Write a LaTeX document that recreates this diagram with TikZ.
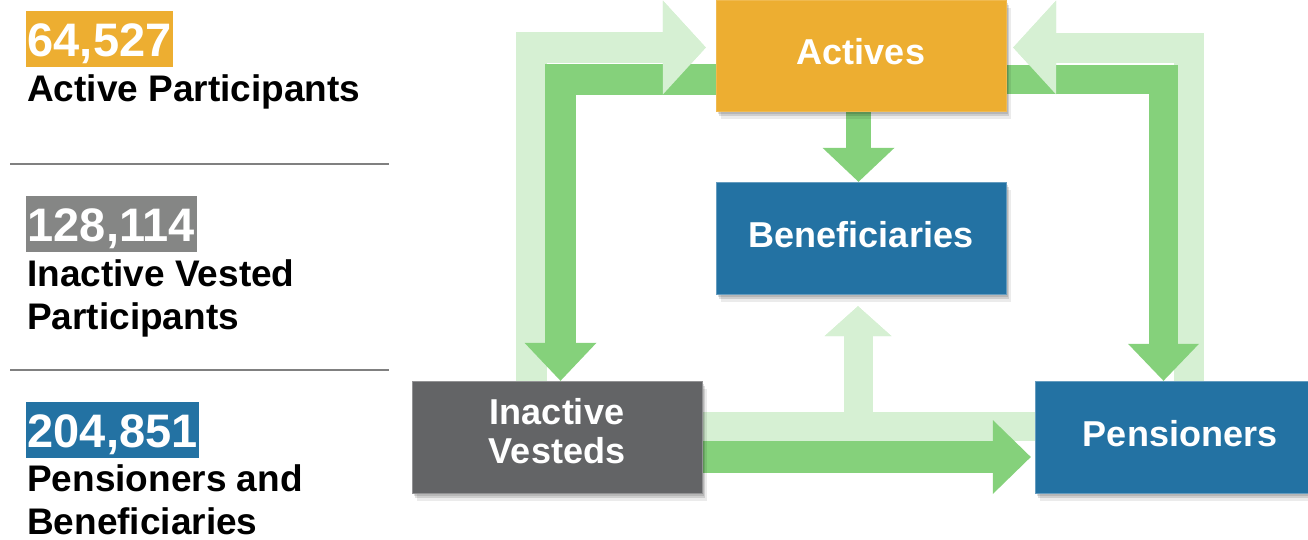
\documentclass[tikz,border=0pt]{standalone}
\usepackage{fontspec}
\setmainfont{Liberation Sans}
\usetikzlibrary{arrows.meta,shadows,calc}
\definecolor{actorange}{HTML}{EDAE31}
\definecolor{penblue}{HTML}{2372A3}
\definecolor{vestgray}{HTML}{636466}
\definecolor{numgray}{HTML}{858685}
\definecolor{flowdark}{HTML}{85D17B}
\definecolor{flowlight}{HTML}{D6F0D3}
\definecolor{rulegray}{HTML}{808080}
\pgfdeclarelayer{background}
\pgfsetlayers{background,main}

\begin{document}
\begin{tikzpicture}[x=1pt,y=-1pt,
  softshadow/.style={
    drop shadow={shadow xshift=1.5pt,shadow yshift=-2.5pt,opacity=0.12,fill=black},
    drop shadow={shadow xshift=3pt,shadow yshift=-5pt,opacity=0.12,fill=black},
    drop shadow={shadow xshift=4.5pt,shadow yshift=-7.5pt,opacity=0.08,fill=black}},
  statebox/.style={minimum width=290pt, minimum height=112pt, inner sep=0pt,
    text=white, align=center, font=\fontsize{36}{39}\selectfont\bfseries,
    text height=26pt, text depth=8pt, softshadow},
  numbox/.style={fill=#1, text=white, font=\fontsize{47}{47}\selectfont\bfseries,
    inner xsep=1.5pt, inner ysep=0pt, text height=45pt, text depth=11pt, anchor=base west},
  caption/.style={anchor=base west, inner sep=0pt, align=left,
    font=\fontsize{37}{43}\selectfont\bfseries},
  flowD/.style={draw=flowdark, line width=#1, line join=miter, line cap=butt},
  flowL/.style={draw=flowlight, line width=#1, line join=miter, line cap=butt},
  rule/.style={draw=rulegray, line width=2pt}
]
\clip (0,0) rectangle (1308,539);

% ---------- summary column (captions anchored at their last baseline) ----------
\node[numbox=actorange] (nact) at (26,56) {64,527};
\node[caption] (cact) at (27,101) {Active Participants};
\draw[rule] (10,164) -- (389,164);

\node[numbox=numgray] (nina) at (26,241) {128,114};
\node[caption] (cina) at (27,329) {Inactive Vested\\Participants};
\draw[rule] (10,369.5) -- (389,369.5);

\node[numbox=penblue] (npen) at (26,447) {204,851};
\node[caption] (cpen) at (27,534) {Pensioners and\\Beneficiaries};

% ---------- status boxes ----------
\node[statebox, fill=actorange, draw=actorange!85!white, minimum height=111pt] (act) at (861,55.5) {Actives};
\node[statebox, fill=penblue, draw=penblue!70!white] (ben) at (861,238) {Beneficiaries};
\node[statebox, fill=vestgray, draw=vestgray!70!white, text height=65pt, text depth=13pt] (ina) at (557,437) {Inactive\\Vesteds};
\node[statebox, fill=penblue, draw=penblue!70!white] (pen) at (1180,437) {Pensioners};

% ---------- flows ----------
\begin{pgfonlayer}{background}
  % light (return) flows
  \draw[flowL=31pt, -{Triangle[length=43pt,width=94pt,line width=0pt]}]
    ([xshift=-26pt]ina.north) |- ([xshift=-10pt,yshift=8pt]act.west);
  \draw[flowL=30pt, -{Triangle[length=43pt,width=94pt,line width=0pt]}]
    ([xshift=9pt]pen.north) |- ([xshift=7pt,yshift=8pt]act.east);
  \draw[flowL=29pt, -{Triangle[length=30pt,width=67pt,line width=0pt]}]
    ([yshift=10.5pt]ina.east) -| ([xshift=-3pt,yshift=-12pt]ben.south);
  \draw[flowL=29pt, -{Triangle[length=30pt,width=67pt,line width=0pt]}]
    ([yshift=10.5pt]pen.west) -| ([xshift=-3pt,yshift=-12pt]ben.south);

  % dark (main) flows
  \draw[flowD=31pt, -{Triangle[length=38pt,width=72pt,line width=0pt]}]
    ([yshift=-24pt]act.west) -| ([xshift=3.5pt]ina.north);
  \draw[flowD=29pt, -{Triangle[length=37pt,width=71pt,line width=0pt]}]
    ([yshift=-24pt]act.east) -| ([xshift=-16.5pt]pen.north);
  \draw[flowD=25pt, -{Triangle[length=34pt,width=72pt,line width=0pt]}]
    ([xshift=-2.5pt]act.south) -- ([xshift=-2.5pt]ben.north);
  \draw[flowD=32pt, -{Triangle[length=38pt,width=74pt,line width=0pt]}]
    ([yshift=-20pt]ina.east) -- ([xshift=-4pt,yshift=-20pt]pen.west);

  % light heads laid over the dark shafts
  \draw[flowL=31pt, -{Triangle[length=43pt,width=94pt,line width=0pt]}]
    ([xshift=-60pt,yshift=8pt]act.west) -- ([xshift=-10pt,yshift=8pt]act.west);
  \draw[flowL=30pt, -{Triangle[length=43pt,width=94pt,line width=0pt]}]
    ([xshift=57pt,yshift=8pt]act.east) -- ([xshift=7pt,yshift=8pt]act.east);
\end{pgfonlayer}
\end{tikzpicture}
\end{document}
